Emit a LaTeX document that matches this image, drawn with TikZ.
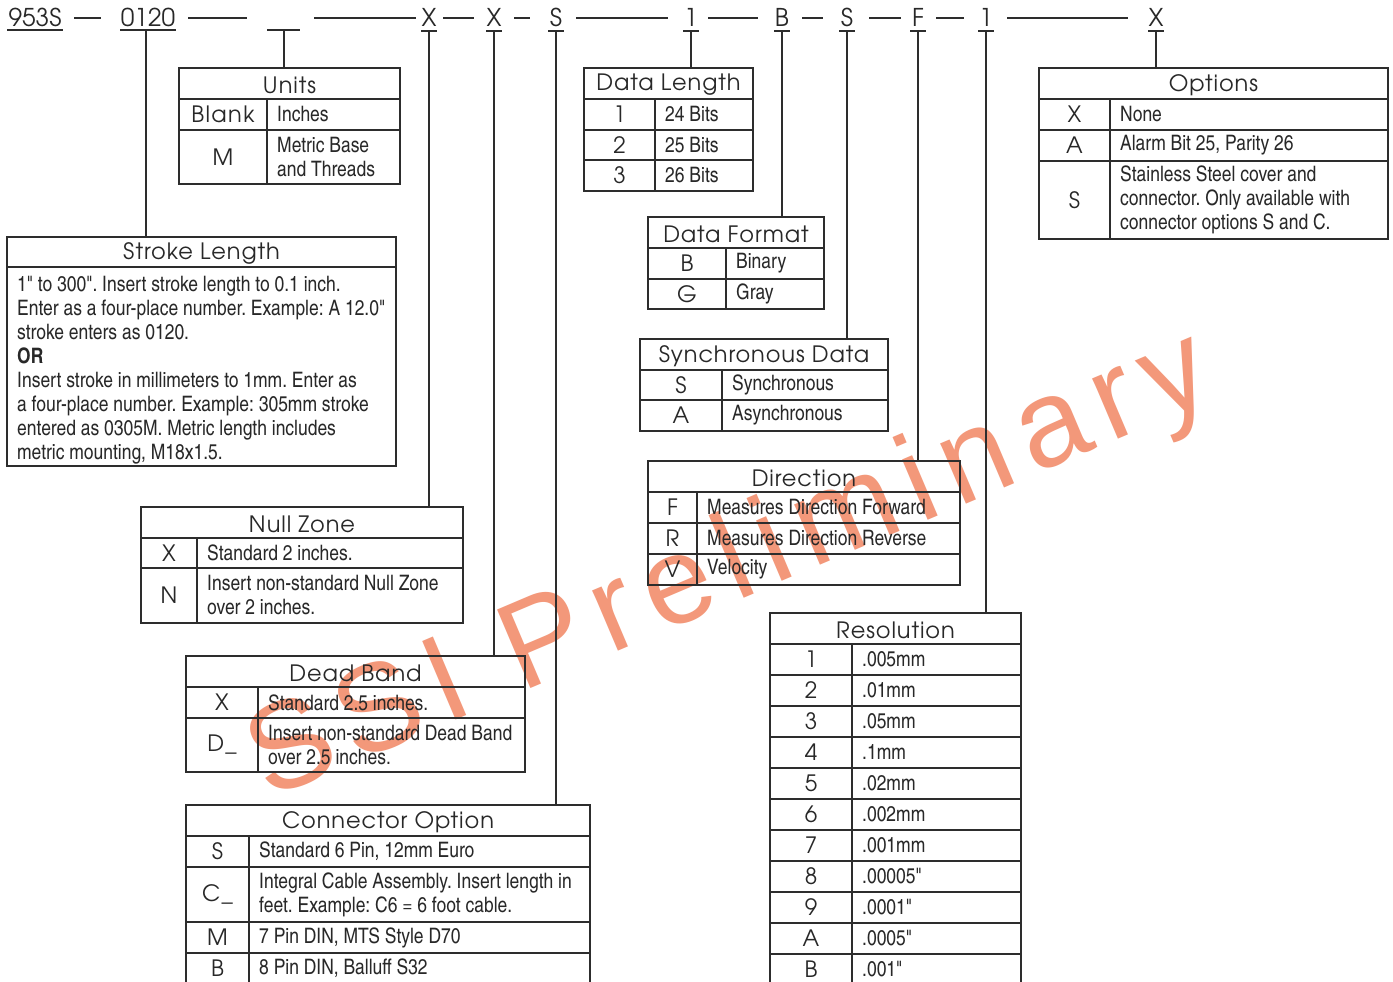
\documentclass[tikz,border=0pt]{standalone}
\usepackage{fontspec}
\usetikzlibrary{fit}
\newfontfamily\headfont{texgyreadventor}[Extension=.otf,UprightFont=*-regular,BoldFont=*-bold,LetterSpace=4]
\newfontfamily\codefont{texgyreadventor}[Extension=.otf,UprightFont=*-regular,BoldFont=*-bold,LetterSpace=6]
\newfontfamily\topfont{texgyreadventor}[Extension=.otf,UprightFont=*-regular,BoldFont=*-bold]
\newfontfamily\bodyfont{texgyreheroscn}[Extension=.otf,UprightFont=*-regular,BoldFont=*-bold]
\newfontfamily\wmfont{Liberation Sans}[LetterSpace=11]
\definecolor{lc}{RGB}{45,45,45}
\definecolor{tc}{RGB}{40,40,40}
\definecolor{wm}{RGB}{243,152,122}
\tikzset{
  box/.style={draw=lc, line width=1.3pt, inner sep=0pt, fit={#1}},
  rule/.style={draw=lc, line width=1.3pt},
  hdr/.style={font=\headfont\fontsize{22.5}{26}\selectfont, text=tc, inner sep=0pt, yshift=-1.5pt},
  codec/.style={font=\codefont\fontsize{22.5}{26}\selectfont, text=tc, inner sep=0pt},
  desc/.style={font=\bodyfont\fontsize{21.3}{24}\selectfont\frenchspacing, text=tc, inner sep=0pt, align=left, anchor=west},
  toplab/.style={font=\topfont\fontsize{24.5}{28}\selectfont, text=tc, inner sep=0pt, anchor=base},
  conn/.style={draw=lc, line width=1.2pt},
  connk/.style={draw=lc, line width=2pt},
  dashln/.style={draw=lc, line width=1.2pt},
  thickbox/.style={line width=2.2pt},
}
% name, x1, y1, x2, y2, header bottom, title
\newcommand\tbox[8][]{%
  \node[box={(#3,#4) (#5,#6)}, #1] (#2) {};
  \node[hdr] (#2h) at ({(#3+#5)/2},{(#4+#7)/2}) {#8};
}
% [style] name, x1, xc, x2, ya, yb, code, desc
\newcommand\trow[9][]{%
  \draw[rule, #1] (#3,#6) -- (#5,#6);
  \draw[rule, #1] (#4,#6) -- (#4,#7);
  \node[codec] (#2c) at ({(#3+#4)/2},{(#6+#7)/2}) {#8};
  \node[desc] (#2d) at ({#4+10},{(#6+#7)/2}) {#9};
}
\begin{document}
\begin{tikzpicture}[x=1pt,y=-1pt]
\clip (0,0) rectangle (1393,982);
\fill[white] (0,0) rectangle (1393,982);

% ---------- watermark (behind) ----------
\node[font=\wmfont\fontsize{124}{130}\selectfont, text=wm, rotate=23, inner sep=0pt, anchor=base west] (wmark) at (268,800) {SSI Preliminary};

% ---------- top code line ----------
\node[toplab] (t953) at (35,27) {953S};
\node[toplab] (t0120) at (148,27) {0120};
\coordinate (tblank) at (284,30);
\node[toplab] (tX1) at (429,27) {X};
\node[toplab] (tX2) at (494,27) {X};
\node[toplab] (tS1) at (556,27) {S};
\node[toplab] (t1a) at (691,27) {1};
\node[toplab] (tB) at (782,27) {B};
\node[toplab] (tS2) at (847,27) {S};
\node[toplab] (tF) at (918,27) {F};
\node[toplab] (t1b) at (986,27) {1};
\node[toplab] (tX3) at (1156,27) {X};

\foreach \a/\b in {74/101,188/247,314/416,443/474,514/530,576/668,708/758,802/823,869/901,936/964,1007/1128}
  \draw[dashln] (\a,18) -- (\b,18);

% underlines / T-bars
\draw[conn] (7,30) -- (63,30);
\draw[conn] (120,30) -- (176,30);
\draw[conn] (267,30) -- (300,30);
\foreach \x in {429,494,556,691,782,847,918,986,1156}
  \draw[conn] (\x-8,31) -- (\x+8,31);

% ---------- tables ----------
% Units
\tbox{units}{179}{68}{400}{184}{99}{Units}
\trow{uA}{179}{267}{400}{99}{130}{Blank}{Inches}
\trow{uB}{179}{267}{400}{130}{184}{M}{Metric Base\\and Threads}

% Stroke Length
\tbox{stroke}{7}{237}{396}{466}{267}{Stroke Length}
\draw[rule] (7,267) -- (396,267);
\node[desc, anchor=north west] (strokeT) at (17,276) {1" to 300". Insert stroke length to 0.1 inch.\\
Enter as a four-place number. Example: A 12.0"\\
stroke enters as 0120.\\
\textbf{OR}\\
Insert stroke in millimeters to 1mm. Enter as\\
a four-place number. Example: 305mm stroke\\
entered as 0305M. Metric length includes\\
metric mounting, M18x1.5.};

% Null Zone
\tbox{null}{141}{507}{463}{623}{538}{Null Zone}
\trow{nA}{141}{197}{463}{538}{568}{X}{Standard 2 inches.}
\trow{nB}{141}{197}{463}{568}{623}{N}{Insert non-standard Null Zone\\over 2 inches.}

% Dead Band
\tbox[thickbox]{dead}{186}{656}{525}{772}{687}{Dead Band}
\trow[thickbox]{dA}{186}{258}{525}{687}{718}{X}{Standard 2.5 inches.}
\trow[thickbox]{dB}{186}{258}{525}{718}{772}{D\_}{Insert non-standard Dead Band\\over 2.5 inches.}

% Connector Option
\tbox{conn}{186}{805}{590}{1000}{836}{Connector Option}
\trow{cS}{186}{249}{590}{836}{867}{S}{Standard 6 Pin, 12mm Euro}
\trow{cC}{186}{249}{590}{867}{922}{C\_}{Integral Cable Assembly. Insert length in\\feet. Example: C6 = 6 foot cable.}
\trow{cM}{186}{249}{590}{922}{953}{M}{7 Pin DIN, MTS Style D70}
\trow{cB}{186}{249}{590}{953}{984}{B}{8 Pin DIN, Balluff S32}

% Data Length
\tbox{dlen}{584}{68}{753}{191}{99}{Data Length}
\trow{lA}{584}{655}{753}{99}{130}{1}{24 Bits}
\trow{lB}{584}{655}{753}{130}{160}{2}{25 Bits}
\trow{lC}{584}{655}{753}{160}{191}{3}{26 Bits}

% Data Format
\tbox{dfmt}{648}{217}{824}{309}{248}{Data Format}
\trow{fA}{648}{726}{824}{248}{279}{B}{Binary}
\trow{fB}{648}{726}{824}{279}{309}{G}{Gray}

% Synchronous Data
\tbox{sync}{640}{339}{888}{431}{370}{Synchronous Data}
\trow{sA}{640}{722}{888}{370}{400}{S}{Synchronous}
\trow{sB}{640}{722}{888}{400}{431}{A}{Asynchronous}

% Direction
\tbox[thickbox]{dir}{648}{461}{960}{585}{492}{Direction}
\trow[thickbox]{rA}{648}{697}{960}{492}{523}{F}{Measures Direction Forward}
\trow[thickbox]{rB}{648}{697}{960}{523}{554}{R}{Measures Direction Reverse}
\trow[thickbox]{rC}{648}{697}{960}{554}{585}{V}{Velocity}

% Resolution
\tbox{res}{770}{613}{1021}{1000}{644}{Resolution}
\trow{e1}{770}{852}{1021}{644}{675}{1}{.005mm}
\trow{e2}{770}{852}{1021}{675}{706}{2}{.01mm}
\trow{e3}{770}{852}{1021}{706}{737}{3}{.05mm}
\trow{e4}{770}{852}{1021}{737}{768}{4}{.1mm}
\trow{e5}{770}{852}{1021}{768}{799}{5}{.02mm}
\trow{e6}{770}{852}{1021}{799}{830}{6}{.002mm}
\trow{e7}{770}{852}{1021}{830}{861}{7}{.001mm}
\trow{e8}{770}{852}{1021}{861}{892}{8}{.00005"}
\trow{e9}{770}{852}{1021}{892}{923}{9}{.0001"}
\trow{eA}{770}{852}{1021}{923}{954}{A}{.0005"}
\trow{eB}{770}{852}{1021}{954}{985}{B}{.001"}

% Options
\tbox{opt}{1039}{68}{1388}{239}{99}{Options}
\trow{oX}{1039}{1110}{1388}{99}{130}{X}{None}
\trow{oA}{1039}{1110}{1388}{130}{161}{A}{Alarm Bit 25, Parity 26}
\trow{oS}{1039}{1110}{1388}{161}{239}{S}{Stainless Steel cover and\\connector. Only available with\\connector options S and C.}

% ---------- connectors ----------
\draw[conn] ([xshift=-2pt]t0120.south |- 0,30) -- ([xshift=-2pt]t0120.south |- stroke.north);
\draw[conn] (tblank) -- (tblank |- units.north);
\draw[conn] (tX1.south |- 0,31) -- (tX1.south |- null.north);
\draw[connk] (tX2.south |- 0,31) -- (tX2.south |- dead.north);
\draw[connk] (tS1.south |- 0,31) -- (tS1.south |- conn.north);
\draw[conn] (t1a.south |- 0,31) -- (t1a.south |- dlen.north);
\draw[conn] (tB.south |- 0,31) -- (tB.south |- dfmt.north);
\draw[conn] (tS2.south |- 0,31) -- (tS2.south |- sync.north);
\draw[connk] (tF.south |- 0,31) -- (tF.south |- dir.north);
\draw[connk] (t1b.south |- 0,31) -- (t1b.south |- res.north);
\draw[conn] (tX3.south |- 0,31) -- (tX3.south |- opt.north);
\end{tikzpicture}
\end{document}
